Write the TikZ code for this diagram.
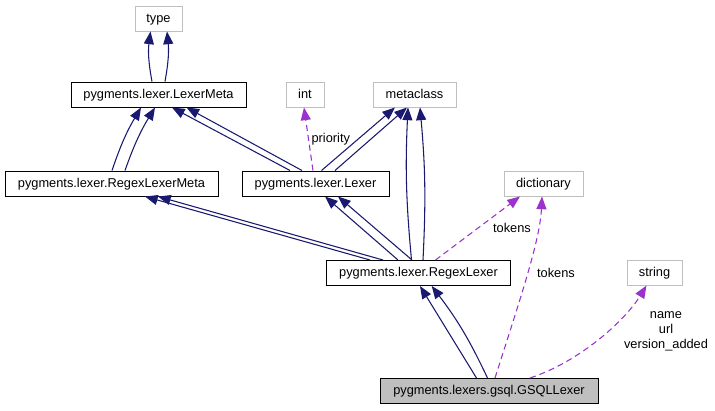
\documentclass[tikz,border=0pt]{standalone}
\usepackage{fontspec}
\setmainfont{Liberation Sans}
\usetikzlibrary{arrows.meta,calc}
\definecolor{edgeblue}{HTML}{191970}
\definecolor{edgepurple}{HTML}{9A32CD}
\definecolor{extgrey}{HTML}{BFBFBF}
\begin{document}
\begin{tikzpicture}[x=0.75pt,y=-0.75pt,
  every node/.style={font=\fontsize{9.6}{11.25}\selectfont},
  box/.style={draw, line width=0.75pt, minimum height=18.75pt, inner sep=0pt,
    text height=7.6pt, text depth=2pt, minimum width=#1*0.75pt},
  ext/.style={box=#1, draw=extgrey},
  cls/.style={box=#1, draw=black},
  inh/.style={draw=edgeblue, line width=0.8pt,
    -{Triangle[length=9.5pt,width=7.5pt,fill=edgeblue]}},
  use/.style={draw=edgepurple, line width=0.8pt, dash pattern=on 4.5pt off 3pt,
    -{Triangle[length=9.5pt,width=7.5pt,fill=edgepurple]}},
  lbl/.style={inner sep=0pt}
]
\useasboundingbox (0,0) rectangle (715,411);

% nodes
\node[ext=47] (type) at (158.5,18.5) {type};
\node[cls=175] (lm) at (158.5,94.5) {pygments.lexer.LexerMeta};
\node[ext=38] (int) at (305,94.5) {int};
\node[ext=83] (meta) at (414.5,94.5) {metaclass};
\node[cls=213] (rlm) at (111.5,183.5) {pygments.lexer.RegexLexerMeta};
\node[cls=147] (lex) at (315.5,183.5) {pygments.lexer.Lexer};
\node[ext=79] (dict) at (543.5,183.5) {dictionary};
\node[cls=184] (rl) at (418.5,273) {pygments.lexer.RegexLexer};
\node[ext=55] (str) at (654.5,272.5) {string};
\node[cls=218, fill=extgrey] (gsql) at (489,391) {pygments.lexers.gsql.GSQLLexer};

% LexerMeta -> type
\draw[inh] ($(lm.north)+(-6.5,0)$) to[bend left=9] ($(type.south)+(-8,0)$);
\draw[inh] ($(lm.north)+(6.5,0)$) to[bend right=8] ($(type.south)+(8.5,0)$);

% RegexLexerMeta -> LexerMeta
\draw[inh] ($(rlm.north)+(0.5,0)$) to[bend left=6] ($(lm.south)+(-17.5,0)$);
\draw[inh] ($(rlm.north)+(13.5,0)$) to[bend left=6] ($(lm.south)+(-3.5,0)$);

% Lexer -> LexerMeta
\draw[inh] ($(lex.north)+(-25.5,0)$) -- ($(lm.south)+(13.5,0)$);
\draw[inh] ($(lex.north)+(-13.5,0)$) -- ($(lm.south)+(28,0)$);

% Lexer -> int
\draw[use] ($(lex.north)+(-2.5,0)$) -- node[lbl, anchor=west, xshift=1.9pt] {priority} ($(int.south)+(-1,0)$);

% Lexer -> metaclass
\draw[inh] ($(lex.north)+(6,0)$) -- ($(meta.south)+(-19.5,0)$);
\draw[inh] ($(lex.north)+(19.5,0)$) -- ($(meta.south)+(-7.5,0)$);

% RegexLexer -> RegexLexerMeta
\draw[inh] ($(rl.north)+(-48.5,0)$) -- ($(rlm.south)+(33.5,0)$);
\draw[inh] ($(rl.north)+(-35.5,0)$) -- ($(rlm.south)+(46.5,0)$);

% RegexLexer -> Lexer
\draw[inh] ($(rl.north)+(-20.5,0)$) -- ($(lex.south)+(9.5,0)$);
\draw[inh] ($(rl.north)+(-6.5,0)$) -- ($(lex.south)+(22.5,0)$);

% RegexLexer -> metaclass
\draw[inh] ($(rl.north)+(-7,0)$) to[bend left=4] ($(meta.south)+(-6.5,0)$);
\draw[inh] ($(rl.north)+(4.5,0)$) to[bend right=4] ($(meta.south)+(5.5,0)$);

% RegexLexer -> dictionary
\draw[use] ($(rl.north)+(17,0)$) -- ($(dict.south)+(-23.5,0)$)
  node[lbl, at={(512,228)}] {tokens};

% GSQLLexer -> RegexLexer
\draw[inh] ($(gsql.north)+(-12.5,0)$) -- ($(rl.south)+(1.5,0)$);
\draw[inh] ($(gsql.north)+(-1.5,0)$) to[bend right=6] ($(rl.south)+(13.2,0)$);

% GSQLLexer -> dictionary
\draw[use] ($(gsql.north)+(6,0)$) .. controls +(25,-78.5) and +(-2,44) .. ($(dict.south)+(-1.5,0)$)
  node[lbl, at={(556,273)}] {tokens};

% GSQLLexer -> string
\draw[use] ($(gsql.north)+(41,0)$) .. controls +(50,-16.5) and +(-21.5,35) .. ($(str.south)+(-8,0)$)
  node[lbl, align=center, at={(666,331)}] {name\\url\\version\_added};
\end{tikzpicture}
\end{document}
